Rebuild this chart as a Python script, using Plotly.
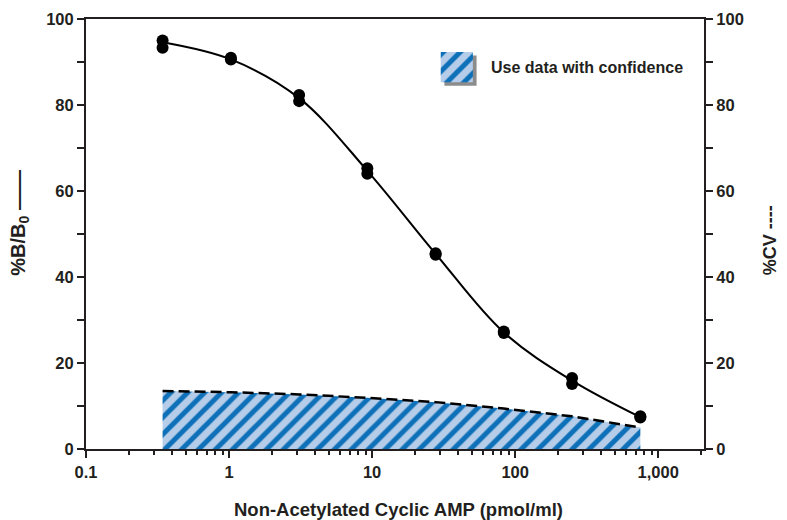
import plotly.graph_objects as go

# ---- data ----
conc = [0.343, 1.03, 3.09, 9.26, 27.8, 83.3, 250, 750]          # pmol/ml standards
bb0_rep1 = [95.0, 91.0, 82.3, 65.3, 45.5, 27.3, 16.5, 7.6]      # %B/B0 replicate 1
bb0_rep2 = [93.3, 90.6, 80.9, 64.0, 45.2, 27.0, 15.1, 7.3]      # %B/B0 replicate 2
bb0_curve = [94.6, 90.6, 81.6, 64.7, 45.4, 27.1, 15.9, 7.4]     # fitted curve
cv = [13.5, 13.2, 12.7, 11.9, 10.9, 9.4, 7.6, 5.0]               # %CV
xtick_vals = [0.1, 1, 10, 100, 1000]
xtick_text = ["0.1", "1", "10", "100", "1,000"]
ytick_vals = [0, 20, 40, 60, 80, 100]
legend_label = "Use data with confidence"
x_title = "Non-Acetylated Cyclic AMP (pmol/ml)"
y_title = "%B/B<sub>0</sub> ——"
y2_title = "%CV ----"

INK = "#231f20"
LIGHT = "#b5cde9"
DARK = "#0d70b8"
FAMILY = "Liberation Sans, Arial, sans-serif"
FONT = dict(family=FAMILY, size=16, color=INK)


def b(t):
    return "<b>" + str(t) + "</b>"


fig = go.Figure()

# %CV hatched area (right axis)
fig.add_trace(go.Scatter(
    x=conc, y=cv, yaxis="y2", mode="lines", fill="tozeroy",
    line=dict(color="black", width=2.5, dash="11px,5px"),
    fillcolor=LIGHT,
    fillpattern=dict(shape="/", bgcolor=LIGHT, fgcolor=DARK, size=12, solidity=0.42, fillmode="replace"),
    showlegend=False, hoverinfo="skip"))

# fitted curve
fig.add_trace(go.Scatter(
    x=conc, y=bb0_curve, mode="lines", line=dict(color="black", width=2, shape="spline"),
    showlegend=False, hoverinfo="skip"))

# replicate points
for reps in (bb0_rep1, bb0_rep2):
    fig.add_trace(go.Scatter(
        x=conc, y=reps, mode="markers",
        marker=dict(color="black", size=12, line=dict(width=0)),
        showlegend=False))

# legend key (hatched square) on a hidden overlay axis in plot fractions
kx0, kx1, ky0, ky1 = 0.574, 0.626, 0.853, 0.923
fig.add_shape(type="rect", xref="paper", yref="paper",
              x0=kx0 + 0.006, x1=kx1 + 0.006, y0=ky0 - 0.008, y1=ky1 - 0.008,
              fillcolor="#8c8c8c", line=dict(width=0), layer="below")
fig.add_trace(go.Scatter(
    x=[kx0, kx1, kx1, kx0, kx0], y=[ky0, ky0, ky1, ky1, ky0],
    xaxis="x3", yaxis="y3", mode="lines", fill="toself",
    line=dict(width=0, color=LIGHT), fillcolor=LIGHT,
    fillpattern=dict(shape="/", bgcolor=LIGHT, fgcolor=DARK, size=12, solidity=0.42, fillmode="replace"),
    showlegend=False, hoverinfo="skip"))

# texts
fig.add_annotation(x=0.652, y=0.888, xref="paper", yref="paper", text=b(legend_label),
                   showarrow=False, xanchor="left", yanchor="middle", font=FONT)
fig.add_annotation(x=0.505, y=-0.14, xref="paper", yref="paper", text=b(x_title),
                   showarrow=False, xanchor="center", yanchor="middle",
                   font=dict(family=FAMILY, size=18.5, color=INK))
fig.add_annotation(x=-0.107, y=0.526, xref="paper", yref="paper", text=b(y_title),
                   showarrow=False, xanchor="center", yanchor="middle", textangle=-90,
                   font=dict(family=FAMILY, size=20, color=INK))
fig.add_annotation(x=1.107, y=0.486, xref="paper", yref="paper", text=b(y2_title),
                   showarrow=False, xanchor="center", yanchor="middle", textangle=-90,
                   font=dict(family=FAMILY, size=18, color=INK))

axis_common = dict(showline=True, linecolor=INK, linewidth=2, ticks="outside",
                   tickcolor=INK, tickwidth=2, ticklen=7, showgrid=False, zeroline=False,
                   tickfont=dict(family=FAMILY, size=16.5, color=INK), automargin=False)

# the page body keeps an 8px margin, so the figure is sized to end at the window edge
fig.update_layout(
    width=779, height=512,
    margin=dict(l=78, r=83, t=11, b=71),
    paper_bgcolor="white", plot_bgcolor="white",
    font=FONT,
    xaxis=dict(type="log", range=[-1, 3.32], tickvals=xtick_vals, ticktext=[b(t) for t in xtick_text],
               mirror=True,
               minor=dict(ticks="outside", ticklen=4, tickwidth=1.5, tickcolor=INK, dtick="D1", showgrid=False),
               **axis_common),
    yaxis=dict(range=[0, 100], tickvals=ytick_vals, ticktext=[b(t) for t in ytick_vals],
               minor=dict(ticks="outside", ticklen=7, tickwidth=1.5, tickcolor=INK, dtick=10, showgrid=False),
               **axis_common),
    yaxis2=dict(range=[0, 100], tickvals=ytick_vals, ticktext=[b(t) for t in ytick_vals],
                overlaying="y", side="right",
                minor=dict(ticks="outside", ticklen=7, tickwidth=1.5, tickcolor=INK, dtick=10, showgrid=False),
                **axis_common),
    xaxis3=dict(overlaying="x", range=[0, 1], visible=False, anchor="y3"),
    yaxis3=dict(overlaying="y", range=[0, 1], visible=False, anchor="x3"),
)

fig.write_html("out.html")
